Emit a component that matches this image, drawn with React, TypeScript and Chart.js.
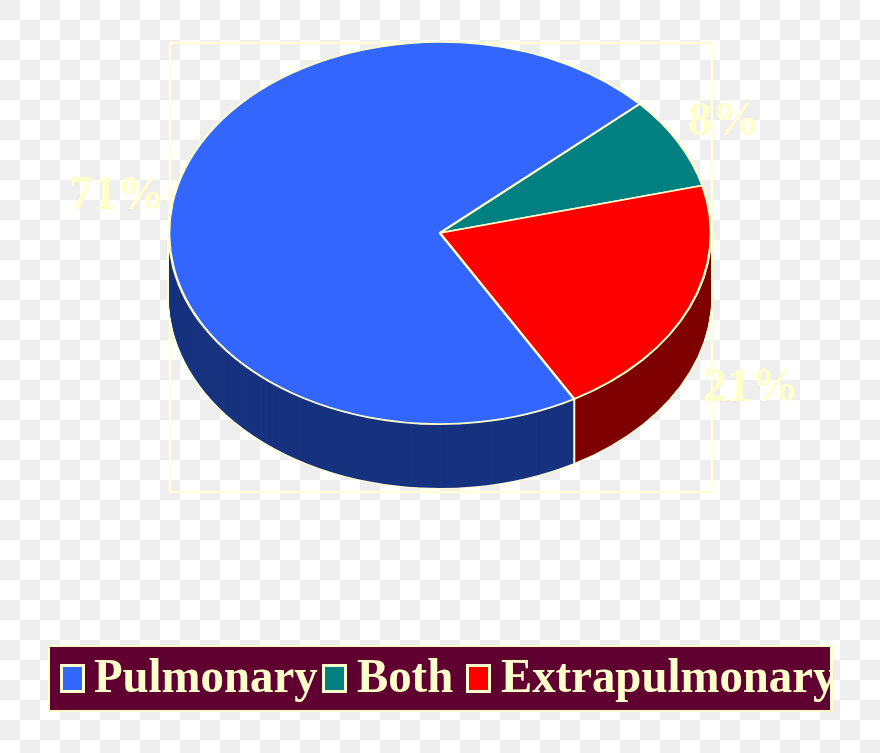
import React, { useEffect, useRef } from "react";
import { Chart, registerables } from "chart.js";

Chart.register(...registerables);

const categories = ["Pulmonary", "Both", "Extrapulmonary"];
const values = [71.45, 7.8, 20.75];
const valueLabels = ["71%", "8%", "21%"];
const topColors = ["#3366FF", "#008080", "#FF0000"];
const sideColors = ["#17327F", "#004040", "#7F0000"];

const CREAM = "#FFFFCC";
const SERIF = '"Liberation Serif", "Times New Roman", serif';
const FLATTEN = 0.705;
const CENTER_Y = 233;
const DEPTH = 64;

function tilt(ctx: CanvasRenderingContext2D, cy: number, shift: number) {
  ctx.translate(0, CENTER_Y + shift);
  ctx.scale(1, FLATTEN);
  ctx.translate(0, -cy);
}

const pie3d = {
  id: "pie3d",
  beforeDatasetsDraw(chart: any) {
    const ctx = chart.ctx as CanvasRenderingContext2D;
    const arcs = chart.getDatasetMeta(0).data as any[];
    const cx = arcs[0].x;
    const cy = arcs[0].y;
    const r = arcs[0].outerRadius;

    // plot frame
    ctx.save();
    ctx.strokeStyle = "#FFFFD8";
    ctx.lineWidth = 2.5;
    ctx.strokeRect(170, 43, 542, 449);
    ctx.restore();

    const drawLayer = (shift: number, outline: boolean) => {
      ctx.save();
      tilt(ctx, cy, shift);
      arcs.forEach((arc, i) => {
        const saved = arc.options;
        arc.options = {
          ...saved,
          backgroundColor: sideColors[i],
          borderColor: CREAM,
          borderWidth: outline ? 3 : 0,
        };
        arc.draw(ctx);
        arc.options = saved;
      });
      ctx.restore();
    };
    for (let d = DEPTH; d >= 1; d -= 1) drawLayer(d, true);
    for (let d = DEPTH; d >= 1; d -= 1) drawLayer(d, false);

    // seam between the visible side walls
    const a = arcs[0].startAngle;
    const sx = cx + r * Math.cos(a);
    const sy = CENTER_Y + r * FLATTEN * Math.sin(a);
    ctx.save();
    ctx.strokeStyle = CREAM;
    ctx.lineWidth = 2;
    ctx.beginPath();
    ctx.moveTo(sx, sy);
    ctx.lineTo(sx, sy + DEPTH);
    ctx.stroke();
    ctx.restore();

    ctx.save();
    tilt(ctx, cy, 0);
  },
  afterDatasetsDraw(chart: any) {
    const ctx = chart.ctx as CanvasRenderingContext2D;
    ctx.restore();

    // value labels
    ctx.save();
    ctx.fillStyle = CREAM;
    ctx.font = `bold 48px ${SERIF}`;
    ctx.textBaseline = "alphabetic";
    ctx.textAlign = "left";
    const labelAnchors = [
      [69, 209],
      [688, 135],
      [703, 401],
    ];
    valueLabels.forEach((t, i) => ctx.fillText(t, labelAnchors[i][0], labelAnchors[i][1]));
    ctx.restore();

    // legend
    ctx.save();
    ctx.fillStyle = CREAM;
    ctx.fillRect(48, 645, 785, 67);
    ctx.fillStyle = "#600030";
    ctx.fillRect(50, 647, 780, 63);
    ctx.beginPath();
    ctx.rect(50, 647, 781, 63);
    ctx.clip();
    const swatchX = [60, 322, 466];
    const textX = [94, 357, 501];
    ctx.textBaseline = "alphabetic";
    ctx.textAlign = "left";
    categories.forEach((name, i) => {
      ctx.fillStyle = CREAM;
      ctx.fillRect(swatchX[i], 664, 25, 29);
      ctx.fillStyle = topColors[i];
      ctx.fillRect(swatchX[i] + 3, 667, 19, 23);
      ctx.save();
      ctx.fillStyle = CREAM;
      ctx.font = `bold 49px ${SERIF}`;
      ctx.translate(textX[i], 692);
      ctx.scale(0.955, 1);
      ctx.fillText(name, 0, 0);
      ctx.restore();
    });
    ctx.restore();
  },
};

export default function App() {
  const ref = useRef<HTMLCanvasElement>(null);
  useEffect(() => {
    document.body.style.margin = "0";
    const chart = new Chart(ref.current!, {
      type: "pie",
      data: {
        labels: categories,
        datasets: [
          {
            data: values,
            backgroundColor: topColors,
            borderColor: CREAM,
            borderWidth: 2.5,
          },
        ],
      },
      options: {
        responsive: false,
        animation: false,
        rotation: 150.3,
        radius: 271,
        plugins: { legend: { display: false }, tooltip: { enabled: false } },
      },
      plugins: [pie3d],
    });
    return () => chart.destroy();
  }, []);
  return (
    <div
      style={{
        position: "relative",
        width: 880,
        height: 753,
        background: "repeating-conic-gradient(#fff 0 25%, #eee 0 50%) 0 0 / 40px 40px",
      }}
    >
      <canvas ref={ref} width={880} height={753} style={{ display: "block" }} />
    </div>
  );
}
